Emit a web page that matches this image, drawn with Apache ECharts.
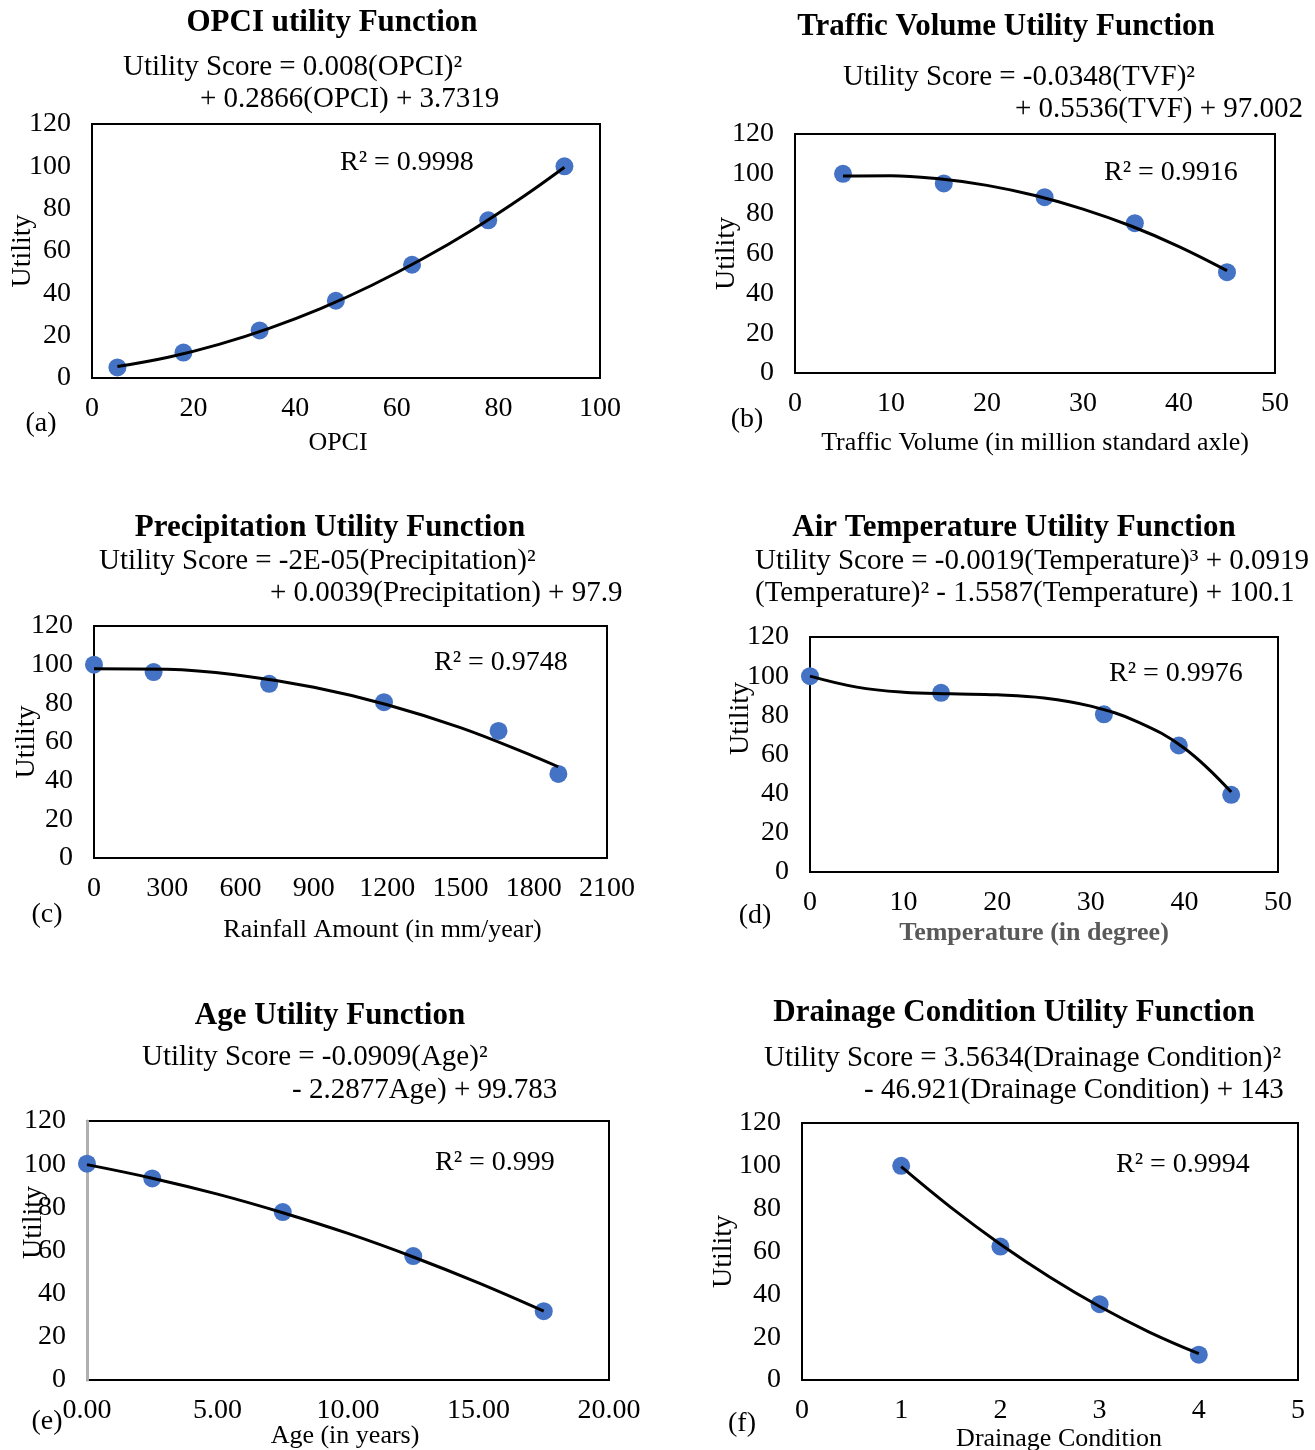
<!DOCTYPE html>
<html>
<head>
<meta charset="utf-8">
<script src="https://cdn.jsdelivr.net/npm/echarts@6/dist/echarts.min.js"></script>
<style>html,body{margin:0;padding:0;background:#fff}#c{width:1315px;height:1450px}</style>
</head>
<body>
<div id="c"></div>
<script>
// ---------- data ----------
const opciX = [5, 18, 33, 48, 63, 78, 93];
const opciU = [5, 12, 22.5, 36.5, 53.5, 74.5, 100];
const opciFitX = [5, 15, 25, 35, 45, 55, 65, 75, 85, 93];
const opciFitU = [5.4, 9.8, 15.9, 23.6, 32.8, 43.7, 56.2, 70.2, 85.9, 99.6];

const tvX = [5, 15.5, 26, 35.4, 45];
const tvU = [100, 95.2, 88.3, 75.2, 50.6];
const tvFitX = [5, 10, 15, 20, 25, 30, 35, 40, 45];
const tvFitU = [98.9, 99.1, 97.5, 94.2, 89.1, 82.3, 73.8, 63.5, 51.4];

const rainX = [0, 244, 717, 1187, 1656, 1901];
const rainU = [100, 96.2, 90.1, 80.6, 65.7, 43.5];
const rainFitX = [0, 300, 600, 900, 1200, 1500, 1800, 1900];
const rainFitU = [97.9, 97.6, 94.4, 88.3, 79.3, 67.4, 52.6, 47.2];

const tempX = [0, 14, 31.4, 39.4, 45];
const tempU = [100, 91.5, 80.5, 64.6, 39.4];
const tempFitX = [0, 5, 10, 15, 20, 25, 30, 35, 40, 45];
const tempFitU = [100, 94.4, 91.8, 91, 90.5, 88.9, 84.7, 76.7, 63.2, 40.8];

const ageX = [0, 2.5, 7.5, 12.5, 17.5];
const ageU = [100.2, 93.4, 77.8, 57.4, 31.9];
const ageFitX = [0, 2.5, 5, 7.5, 10, 12.5, 15, 17.5];
const ageFitU = [99.8, 93.5, 86.1, 77.5, 67.9, 57.0, 45.0, 31.9];

const drainX = [1, 2, 3, 4];
const drainU = [100, 62.3, 35.4, 11.8];
const drainFitX = [1, 1.5, 2, 2.5, 3, 3.5, 4];
const drainFitU = [99.6, 80.6, 63.4, 48.0, 34.3, 22.4, 12.3];

const titles = ['OPCI utility Function', 'Traffic Volume Utility Function', 'Precipitation Utility Function',
  'Air Temperature Utility Function', 'Age Utility Function', 'Drainage Condition Utility Function'];
const eqLine1 = ['Utility Score = 0.008(OPCI)²', 'Utility Score = -0.0348(TVF)²', 'Utility Score = -2E-05(Precipitation)²',
  'Utility Score = -0.0019(Temperature)³ + 0.0919', 'Utility Score = -0.0909(Age)²', 'Utility Score = 3.5634(Drainage Condition)²'];
const eqLine2 = ['+ 0.2866(OPCI) + 3.7319', '+ 0.5536(TVF) + 97.002', '+ 0.0039(Precipitation) + 97.9',
  '(Temperature)² - 1.5587(Temperature) + 100.1', '- 2.2877Age) + 99.783', '- 46.921(Drainage Condition) + 143'];
const r2Labels = ['R² = 0.9998', 'R² = 0.9916', 'R² = 0.9748', 'R² = 0.9976', 'R² = 0.999', 'R² = 0.9994'];
const panelTags = ['(a)', '(b)', '(c)', '(d)', '(e)', '(f)'];
const xNames = ['OPCI', 'Traffic Volume (in million standard axle)', 'Rainfall Amount (in mm/year)',
  'Temperature (in degree)', 'Age (in years)', 'Drainage Condition'];
const yName = 'Utility';

// ---------- layout ----------
const FONT = '"Liberation Serif", "Times New Roman", serif';
const zip = (a, b) => a.map((v, i) => [v, b[i]]);
const panels = [
  {grid: [92, 124, 508, 254], x: [0, 100, 20], pts: zip(opciX, opciU), fit: zip(opciFitX, opciFitU),
   title: [332, 23], eq1: [123, 67], eq2: [200, 99], r2: [340, 163], tag: [41, 424],
   xGap: 52, xPad: [0, 16, 0, 0], yGap: 55, yPad: 0},
  {grid: [795, 134, 480, 239], x: [0, 50, 10], pts: zip(tvX, tvU), fit: zip(tvFitX, tvFitU),
   title: [1006, 27], eq1: [843, 77], eq2: [1015, 109], r2: [1104, 173], tag: [747, 420],
   xGap: 57, xPad: 0, yGap: 54, yPad: 0},
  {grid: [94, 626, 513, 232], x: [0, 2100, 300], pts: zip(rainX, rainU), fit: zip(rainFitX, rainFitU),
   title: [330, 528], eq1: [99, 561], eq2: [270, 593], r2: [434, 663], tag: [47, 915],
   xGap: 59, xPad: [0, 0, 0, 64], yGap: 53, yPad: 0},
  {grid: [810, 637, 468, 235], x: [0, 50, 10], pts: zip(tempX, tempU), fit: zip(tempFitX, tempFitU),
   title: [1014, 528], eq1: [755, 561], eq2: [755, 593], r2: [1109, 674], tag: [755, 916],
   xGap: 48, xPad: [0, 20, 0, 0], yGap: 55, yPad: [0, 0, 0, 72], xBold: true},
  {grid: [87, 1121, 522, 259], x: [0, 20, 5], pts: zip(ageX, ageU), fit: zip(ageFitX, ageFitU),
   title: [330, 1016], eq1: [142, 1057], eq2: [292, 1090], r2: [435, 1163], tag: [47, 1422],
   xGap: 43, xPad: [0, 6, 0, 0], yGap: 39, yPad: [0, 0, 0, 56], fixed: 2, greyLeft: true},
  {grid: [802, 1123, 496, 257], x: [0, 5, 1], pts: zip(drainX, drainU), fit: zip(drainFitX, drainFitU),
   title: [1014, 1013], eq1: [764, 1058], eq2: [864, 1090], r2: [1116, 1165], tag: [742, 1424],
   xGap: 46, xPad: [0, 0, 0, 18], yGap: 64, yPad: 0}
];

const grids = [], xAxes = [], yAxes = [], series = [], graphic = [];
function txt(x, y, text, size, align, weight, fill) {
  return {type: 'text', x: x, y: y, z: 100, silent: true,
    style: {text: text, font: (weight || 'normal') + ' ' + size + 'px ' + FONT, fill: fill || '#000',
      textAlign: align, align: align, textVerticalAlign: 'middle', verticalAlign: 'middle'}};
}
panels.forEach((p, i) => {
  grids.push({left: p.grid[0], top: p.grid[1], width: p.grid[2], height: p.grid[3],
    outerBoundsMode: 'none', containLabel: false,
    show: true, borderColor: '#000', borderWidth: 2, backgroundColor: 'rgba(0,0,0,0)'});
  xAxes.push({type: 'value', gridIndex: i, min: p.x[0], max: p.x[1], interval: p.x[2],
    axisLine: {show: false}, axisTick: {show: false}, splitLine: {show: false},
    axisLabel: {fontFamily: FONT, fontSize: 28, color: '#000', margin: 17, showMinLabel: true, showMaxLabel: true,
      formatter: p.fixed ? (v => v.toFixed(p.fixed)) : (v => String(v))},
    name: xNames[i], nameLocation: 'middle', nameGap: p.xGap, nameMoveOverlap: false,
    nameTextStyle: {fontFamily: FONT, fontSize: 26, color: p.xBold ? '#595959' : '#000',
      fontWeight: p.xBold ? 'bold' : 'normal', padding: p.xPad}});
  yAxes.push({type: 'value', gridIndex: i, min: 0, max: 120, interval: 20,
    axisLine: p.greyLeft ? {show: true, lineStyle: {color: '#b0b0b0', width: 3}} : {show: false},
    axisTick: {show: false}, splitLine: {show: false},
    axisLabel: {fontFamily: FONT, fontSize: 28, color: '#000', margin: 21, showMinLabel: true, showMaxLabel: true},
    name: yName, nameLocation: 'middle', nameGap: p.yGap, nameMoveOverlap: false,
    nameTextStyle: {fontFamily: FONT, fontSize: 28, color: '#000', padding: p.yPad}});
  series.push({type: 'scatter', xAxisIndex: i, yAxisIndex: i, data: p.pts, symbolSize: 18,
    itemStyle: {color: '#4472C4', opacity: 1}, z: 2});
  series.push({type: 'line', xAxisIndex: i, yAxisIndex: i, data: p.fit, smooth: 0.4, showSymbol: false,
    lineStyle: {color: '#000', width: 3}, z: 3, silent: true});
  graphic.push(txt(p.title[0], p.title[1], titles[i], 31, 'center', 'bold'));
  graphic.push(txt(p.eq1[0], p.eq1[1], eqLine1[i], 29, 'left'));
  graphic.push(txt(p.eq2[0], p.eq2[1], eqLine2[i], 29, 'left'));
  graphic.push(txt(p.r2[0], p.r2[1], r2Labels[i], 28, 'left'));
  graphic.push(txt(p.tag[0], p.tag[1], panelTags[i], 28, 'center'));
});

const chart = echarts.init(document.getElementById('c'), null, {renderer: 'canvas'});
chart.setOption({animation: false, backgroundColor: '#fff', grid: grids, xAxis: xAxes, yAxis: yAxes,
  series: series, graphic: graphic});
</script>
</body>
</html>
